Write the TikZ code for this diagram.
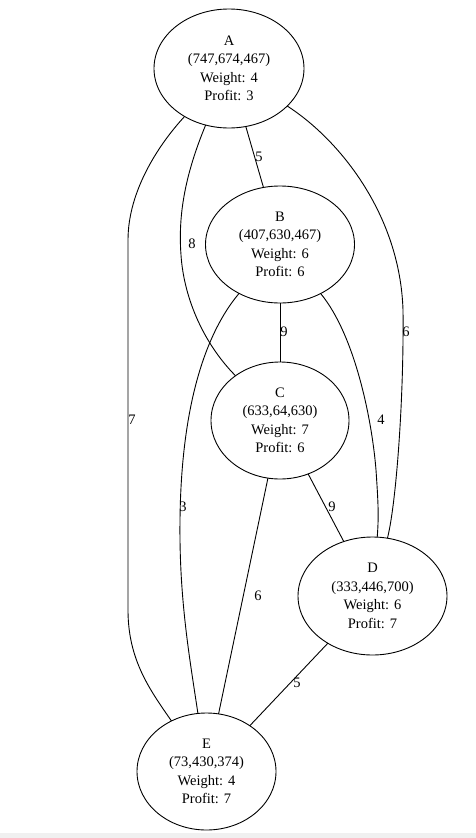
\documentclass[tikz,border=0pt]{standalone}
\usepackage{fontspec}
\setmainfont{Liberation Serif}
\usetikzlibrary{shapes.geometric}
\begin{document}
\begin{tikzpicture}[x=1pt,y=-1pt,
  vtx/.style={draw, ellipse, inner sep=0pt, outer sep=0pt, line width=0.9pt, align=center,
              font=\fontsize{14.5}{18.5}\selectfont},
  lbl/.style={font=\fontsize{14.5}{17}\selectfont, inner sep=0pt},
  edge/.style={line width=0.9pt}]
\fill[white] (0,0) rectangle (476,838);
\fill[black!6] (0,833) rectangle (476,838);
\useasboundingbox (0,0) rectangle (476,838);

\node[vtx, minimum width=150pt, minimum height=119pt] (A) at (229,68.5) {A\\(747,674,467)\\Weight: 4\\Profit: 3};
\node[vtx, minimum width=149pt, minimum height=117pt] (B) at (280,244.5) {B\\(407,630,467)\\Weight: 6\\Profit: 6};
\node[vtx, minimum width=138pt, minimum height=117pt] (C) at (280,420.5) {C\\(633,64,630)\\Weight: 7\\Profit: 6};
\node[vtx, minimum width=149pt, minimum height=118pt] (D) at (372.5,596) {D\\(333,446,700)\\Weight: 6\\Profit: 7};
\node[vtx, minimum width=139pt, minimum height=117pt] (E) at (206.5,771.5) {E\\(73,430,374)\\Weight: 4\\Profit: 7};

% straight edges
\draw[edge] (A) -- (B) node[lbl, at={(259,157)}] {5};
\draw[edge] (B) -- (C) node[lbl, at={(284,332)}] {9};
\draw[edge] (C) -- (E) node[lbl, at={(258,596)}] {6};
\draw[edge] (C) -- (D) node[lbl, at={(332,507)}] {9};
\draw[edge] (D) -- (E) node[lbl, at={(297,683)}] {5};

% curved edges
\draw[edge] (A) .. controls (160,143) and (128,190) .. (128,240) -- (128,610)
  .. controls (128,660) and (150,690) .. (E) node[lbl, at={(132,420)}] {7};
\draw[edge] (A) .. controls (185,175) and (178,215) .. (181,255)
  .. controls (184,300) and (205,345) .. (C) node[lbl, at={(192,244)}] {8};
\draw[edge] (A) .. controls (340,140) and (400,215) .. (403,310)
  .. controls (404,400) and (396,505) .. (D) node[lbl, at={(406,332)}] {6};
\draw[edge] (B) .. controls (200,340) and (181,420) .. (180,520)
  .. controls (179,600) and (190,660) .. (E) node[lbl, at={(183,507)}] {3};
\draw[edge] (B) .. controls (355,335) and (372,420) .. (376,470)
  .. controls (378,500) and (379,515) .. (D) node[lbl, at={(381,420)}] {4};
\end{tikzpicture}
\end{document}
